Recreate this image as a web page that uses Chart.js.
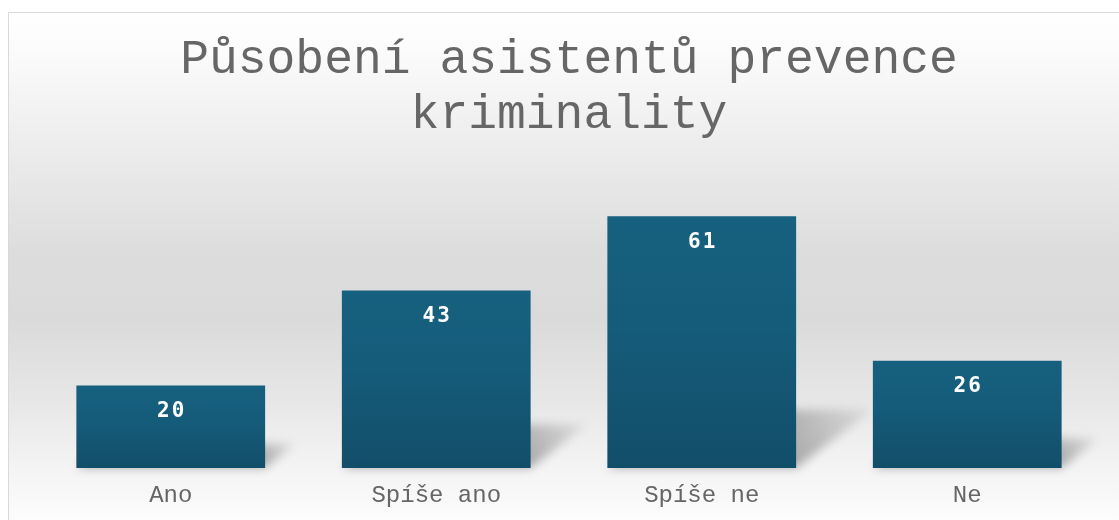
<!DOCTYPE html>
<html>
<head>
<meta charset="utf-8">
<script src="https://cdn.jsdelivr.net/npm/chart.js@4.4.1/dist/chart.umd.min.js"></script>
<style>
  html, body { margin: 0; padding: 0; background: #fff; overflow: hidden; }
  #wrap { width: 1119px; height: 520px; position: relative; }
</style>
</head>
<body>
<div id="wrap"><canvas id="myChart"></canvas></div>
<script>
const titleLines = ['Působení asistentů prevence', 'kriminality'];
const categories = ['Ano', 'Spíše ano', 'Spíše ne', 'Ne'];
const values = [20, 43, 61, 26];
const yMax = 75;

const textGray = '#666666';
const monoFont = '"Courier New", "Nimbus Mono PS", "FreeMono", "Liberation Mono", monospace';

// page frame + grey band behind the plot
const backdrop = {
  id: 'backdrop',
  beforeDraw(chart) {
    const c = chart.ctx;
    const w = chart.width, h = chart.height;
    const g = c.createLinearGradient(0, 12, 0, h);
    g.addColorStop(0, '#ffffff');
    g.addColorStop(0.08, '#fbfbfb');
    g.addColorStop(0.27, '#ececec');
    g.addColorStop(0.47, '#dddddd');
    g.addColorStop(0.6, '#dadada');
    g.addColorStop(0.76, '#e6e6e6');
    g.addColorStop(0.9, '#f4f4f4');
    g.addColorStop(1, '#fcfcfc');
    c.save();
    c.fillStyle = g;
    c.fillRect(9, 13, w, h);
    c.strokeStyle = '#d9d9d9';
    c.lineWidth = 1;
    c.strokeRect(8.5, 12.5, w + 10, h + 10);
    c.restore();
  }
};

// slanted soft shadow to the right of each bar
const barShadow = {
  id: 'barShadow',
  beforeDatasetsDraw(chart) {
    const c = chart.ctx;
    chart.getDatasetMeta(0).data.forEach(bar => {
      const x0 = bar.x - bar.width / 2, x1 = bar.x + bar.width / 2;
      const hgt = bar.base - bar.y;
      const dx = 0.27 * hgt + 8, dy = 0.2 * hgt + 8;
      const g = c.createLinearGradient(x1, bar.base, x1 + dx, bar.base - dy);
      g.addColorStop(0, 'rgba(0,0,0,0.30)');
      g.addColorStop(1, 'rgba(0,0,0,0.05)');
      c.save();
      c.filter = 'blur(5px)';
      c.fillStyle = g;
      c.beginPath();
      c.moveTo(x0, bar.base);
      c.lineTo(x1, bar.base);
      c.lineTo(x1 + dx, bar.base - dy);
      c.lineTo(x0 + dx, bar.base - dy);
      c.closePath();
      c.fill();
      c.restore();
    });
  }
};

const valueLabels = {
  id: 'valueLabels',
  afterDatasetsDraw(chart) {
    const c = chart.ctx;
    c.save();
    c.font = 'bold 21px "DejaVu Sans Mono"';
    c.letterSpacing = '2px';
    c.fillStyle = '#ffffff';
    c.textAlign = 'center';
    c.textBaseline = 'middle';
    chart.getDatasetMeta(0).data.forEach((bar, i) => {
      c.fillText(String(values[i]), bar.x + 1, bar.y + 26);
    });
    c.restore();
  }
};

function barFill(context) {
  const chart = context.chart;
  const y = chart.scales.y;
  if (!y) return '#155b7a';
  const top = y.getPixelForValue(values[context.dataIndex]);
  const bottom = y.getPixelForValue(0);
  if (!isFinite(top) || !isFinite(bottom) || top === bottom) return '#155b7a';
  const g = chart.ctx.createLinearGradient(0, top, 0, bottom);
  g.addColorStop(0, '#16617f');
  g.addColorStop(0.45, '#155b7a');
  g.addColorStop(1, '#124e69');
  return g;
}

new Chart(document.getElementById('myChart'), {
  type: 'bar',
  data: {
    labels: categories,
    datasets: [{
      data: values,
      backgroundColor: barFill,
      borderWidth: 0,
      barPercentage: 0.711,
      categoryPercentage: 1
    }]
  },
  options: {
    responsive: true,
    maintainAspectRatio: false,
    animation: false,
    layout: { padding: { left: 38, right: 19, top: 0, bottom: -4 } },
    plugins: {
      legend: { display: false },
      tooltip: { enabled: false },
      title: {
        display: true,
        text: titleLines,
        color: textGray,
        font: { family: monoFont, size: 48, weight: 'normal', lineHeight: 1.16 },
        padding: { top: 32, bottom: 15 }
      }
    },
    scales: {
      x: {
        grid: { display: false, drawTicks: false },
        border: { display: false },
        ticks: {
          color: textGray,
          padding: 16,
          font: { family: monoFont, size: 24, lineHeight: 1 }
        }
      },
      y: {
        display: false,
        min: 0,
        max: yMax
      }
    }
  },
  plugins: [backdrop, barShadow, valueLabels]
});
</script>
</body>
</html>
